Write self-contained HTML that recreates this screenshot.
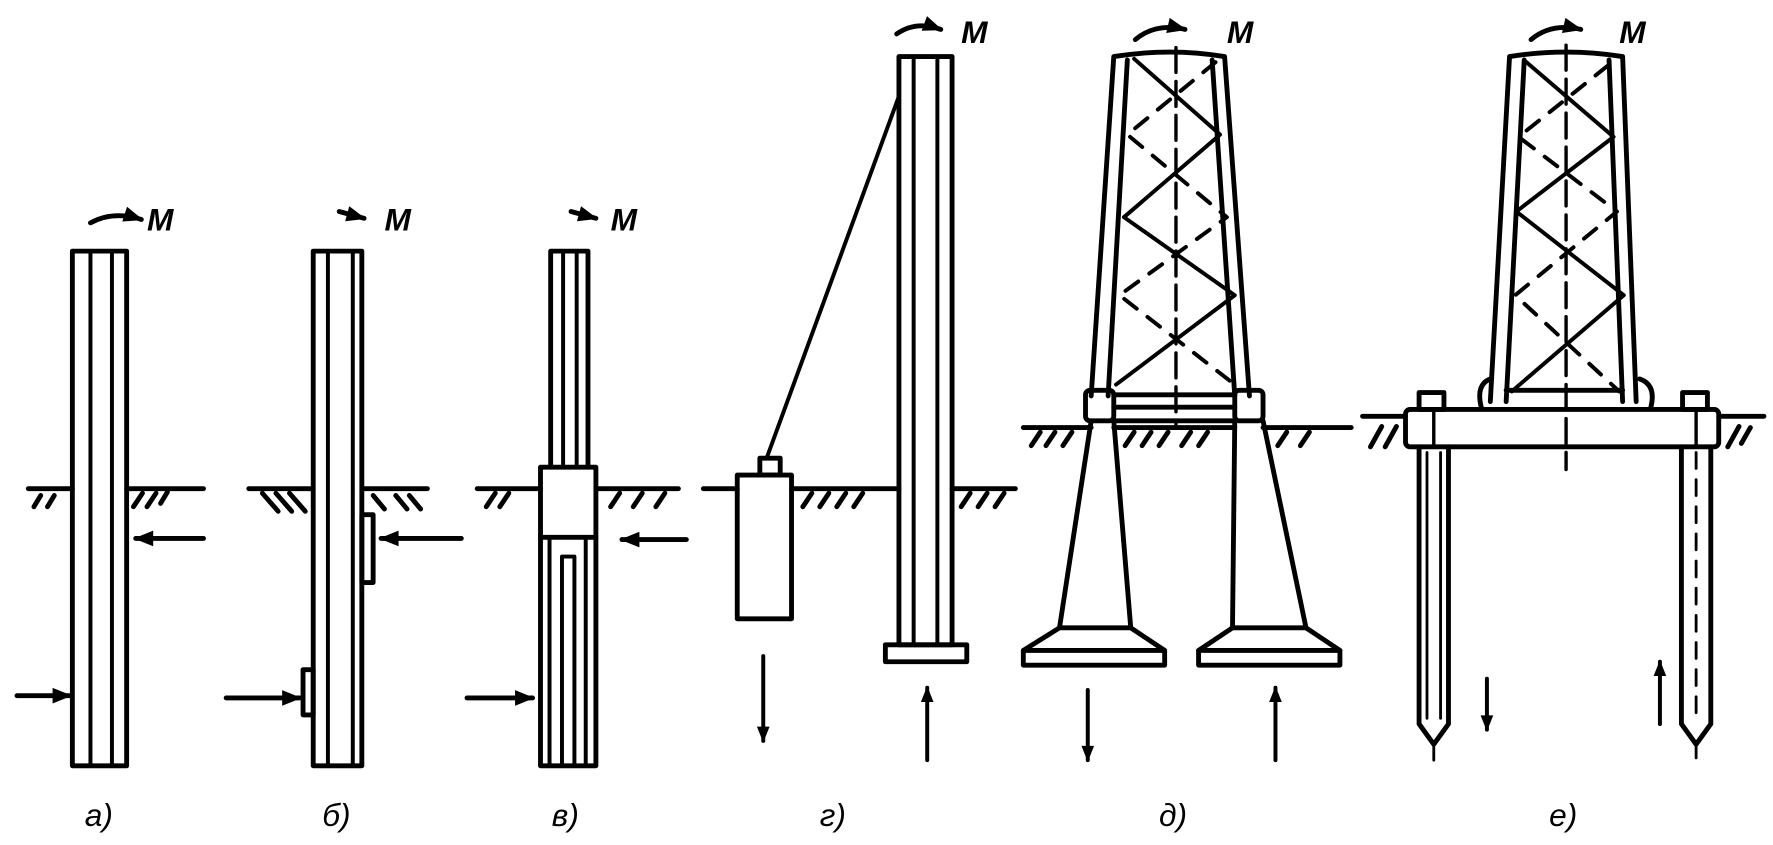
<!DOCTYPE html>
<html><head><meta charset="utf-8"><style>
html,body{margin:0;padding:0;background:#fff;}
svg{display:block;}
text{font-family:"Liberation Sans","DejaVu Sans",sans-serif;font-style:italic;fill:#000;}
</style></head><body>
<svg width="1773" height="845" viewBox="0 0 1568 747" preserveAspectRatio="none" xmlns="http://www.w3.org/2000/svg">
<defs>
<marker id="ah" viewBox="0 0 10 10" refX="9" refY="5" markerWidth="6" markerHeight="4" orient="auto" markerUnits="strokeWidth"><path d="M0,1 L10,5 L0,9 z" fill="#000"/></marker>
</defs>
<g fill="none" stroke="#000" stroke-width="4.3" stroke-linecap="round" stroke-linejoin="round">

<!-- a -->
<rect x="64" y="222" width="48" height="455"/>
<line x1="80" y1="224" x2="80" y2="675" stroke-width="3.5"/>
<line x1="99" y1="224" x2="99" y2="675" stroke-width="3.5"/>
<path d="M25 432 H64 M112 432 H180"/>
<path d="M30 448 l6-10 M42 448 l6-10 M118 448 l8-12 M130 448 l8-12 M142 445 l6-10"/>
<line x1="180" y1="476" x2="120" y2="476" marker-end="url(#ah)"/>
<line x1="15" y1="615" x2="62" y2="615" marker-end="url(#ah)"/>
<path d="M80 197 Q100 186 125 194" marker-end="url(#ah)"/>

<!-- б -->
<rect x="277" y="222" width="43" height="455"/>
<line x1="290" y1="224" x2="290" y2="675" stroke-width="3.5"/>
<line x1="312" y1="224" x2="312" y2="675" stroke-width="3.5"/>
<rect x="320" y="455" width="10" height="60"/>
<rect x="268" y="592" width="9" height="40"/>
<path d="M220 432 H277 M320 432 H378"/>
<path d="M232 436 l14 16 M244 436 l14 16 M256 436 l14 16 M330 438 l10 12 M350 438 l10 12 M362 438 l10 12"/>
<line x1="408" y1="476" x2="337" y2="476" marker-end="url(#ah)"/>
<line x1="200" y1="617" x2="265" y2="617" marker-end="url(#ah)"/>
<line x1="300" y1="187" x2="322" y2="193" marker-end="url(#ah)"/>

<!-- в -->
<path d="M487 222 V413 M520 222 V413 M487 222 H520"/>
<line x1="498" y1="224" x2="498" y2="411" stroke-width="3.5"/>
<line x1="510" y1="224" x2="510" y2="411" stroke-width="3.5"/>
<rect x="478" y="413" width="49" height="62"/>
<path d="M478 475 V677 H527 V475"/>
<path d="M486 477 V675 M497 675 V492 H508 V675 M518 477 V675" stroke-width="3.5"/>
<path d="M422 432 H478 M527 432 H600"/>
<path d="M430 448 l8-12 M442 448 l8-12 M540 448 l8-12 M560 448 l8-12 M580 448 l8-12"/>
<line x1="607" y1="477" x2="550" y2="477" marker-end="url(#ah)"/>
<line x1="413" y1="617" x2="471" y2="617" marker-end="url(#ah)"/>
<line x1="505" y1="187" x2="527" y2="193" marker-end="url(#ah)"/>

<!-- г -->
<rect x="652" y="420" width="48" height="127"/>
<rect x="672" y="405" width="18" height="15"/>
<line x1="678" y1="405" x2="795" y2="85" stroke-width="3.5"/>
<rect x="795" y="50" width="47" height="520"/>
<line x1="808" y1="52" x2="808" y2="568" stroke-width="3.5"/>
<line x1="829" y1="52" x2="829" y2="568" stroke-width="3.5"/>
<rect x="783" y="570" width="72" height="15"/>
<path d="M622 432 H652 M700 432 H795 M842 432 H898"/>
<path d="M710 448 l8-12 M725 448 l8-12 M740 448 l8-12 M755 448 l8-12 M850 448 l8-12 M865 448 l8-12 M880 448 l8-12"/>
<line x1="675" y1="580" x2="675" y2="655" stroke-width="3.5" marker-end="url(#ah)"/>
<line x1="820" y1="672" x2="820" y2="608" stroke-width="3.5" marker-end="url(#ah)"/>
<path d="M793 30 Q810 18 832 26" marker-end="url(#ah)"/>

<!-- д tower -->
<path d="M985 50 L965 350 M997 53 L980 350 M1083 50 L1105 350 M1072 53 L1092 350 M985 50 Q1035 42 1083 50"/>
<path d="M1003 52 L1079 119 L994 192 L1092 261 L987 340" stroke-width="3.5"/>
<path d="M1075 55 L997 119 L1085 192 L990 261 L1092 340" stroke-width="3.5" stroke-dasharray="14 12"/>
<line x1="1040" y1="42" x2="1040" y2="375" stroke-width="3" stroke-dasharray="22 8"/>
<rect x="960" y="345" width="25" height="27" rx="4"/>
<rect x="1092" y="345" width="25" height="27" rx="4"/>
<path d="M985 349 H1092 M985 360 H1092 M985 372 H1092"/>
<path d="M905 378 H965 M1117 378 H1195 M985 378 H1092"/>
<path d="M912 394 l8-12 M925 394 l8-12 M940 394 l8-12 M995 394 l8-12 M1010 394 l8-12 M1025 394 l8-12 M1045 394 l8-12 M1060 394 l8-12 M1130 394 l8-12 M1150 394 l8-12"/>
<path d="M965 372 L937 555 L905 575 V588 H1030 V575 L1000 555 L985 372"/>
<path d="M937 555 H1000 M905 575 H1030"/>
<path d="M1092 372 L1090 555 L1060 575 V588 H1185 V575 L1155 555 L1117 372"/>
<path d="M1090 555 H1155 M1060 575 H1185"/>
<line x1="962" y1="610" x2="962" y2="672" stroke-width="3.5" marker-end="url(#ah)"/>
<line x1="1128" y1="672" x2="1128" y2="608" stroke-width="3.5" marker-end="url(#ah)"/>
<path d="M1004 35 Q1022 20 1048 26" marker-end="url(#ah)"/>

<!-- е tower -->
<path d="M1335 50 L1318 355 M1348 53 L1332 355 M1435 50 L1447 355 M1423 53 L1435 355 M1335 50 Q1385 42 1435 50"/>
<path d="M1350 55 L1427 121 L1341 187 L1436 261 L1337 346" stroke-width="3.5"/>
<path d="M1422 58 L1343 121 L1430 187 L1340 261 L1432 346" stroke-width="3.5" stroke-dasharray="14 12"/>
<line x1="1385" y1="40" x2="1385" y2="415" stroke-width="3" stroke-dasharray="22 8"/>
<path d="M1310 360 Q1305 340 1318 335 M1450 335 Q1465 340 1460 360"/>
<path d="M1332 345 H1435"/>
<rect x="1243" y="362" width="277" height="33" rx="4"/>
<line x1="1268" y1="364" x2="1268" y2="393" stroke-width="3"/>
<line x1="1500" y1="364" x2="1500" y2="393" stroke-width="3"/>
<rect x="1255" y="347" width="22" height="15"/>
<rect x="1488" y="347" width="22" height="15"/>
<path d="M1205 368 H1243 M1520 368 H1560"/>
<path d="M1212 395 l10-18 M1225 395 l10-18 M1528 395 l10-18 M1540 392 l8-14"/>
<path d="M1255 395 V640 L1268 658 L1281 640 V395"/>
<path d="M1262 400 V635 M1274 400 V635" stroke-width="2.5"/>
<path d="M1487 395 V640 L1500 658 L1513 640 V395"/>
<path d="M1500 400 V635" stroke-width="2.5" stroke-dasharray="14 10"/>
<line x1="1268" y1="658" x2="1268" y2="672" stroke-width="2.5"/>
<line x1="1500" y1="658" x2="1500" y2="670" stroke-width="2.5"/>
<line x1="1315" y1="600" x2="1315" y2="645" stroke-width="3.5" marker-end="url(#ah)"/>
<line x1="1468" y1="640" x2="1468" y2="585" stroke-width="3.5" marker-end="url(#ah)"/>
<path d="M1354 35 Q1372 20 1398 26" marker-end="url(#ah)"/>
</g>

<g font-size="28">
<text x="130" y="204" font-weight="bold">M</text>
<text x="340" y="204" font-weight="bold">M</text>
<text x="540" y="204" font-weight="bold">M</text>
<text x="850" y="38" font-weight="bold">M</text>
<text x="1085" y="38" font-weight="bold">M</text>
<text x="1432" y="38" font-weight="bold">M</text>
<text x="75" y="730">а)</text>
<text x="285" y="730">б)</text>
<text x="488" y="730">в)</text>
<text x="725" y="730">г)</text>
<text x="1025" y="730">д)</text>
<text x="1370" y="730">е)</text>
</g>
</svg>
</body></html>
